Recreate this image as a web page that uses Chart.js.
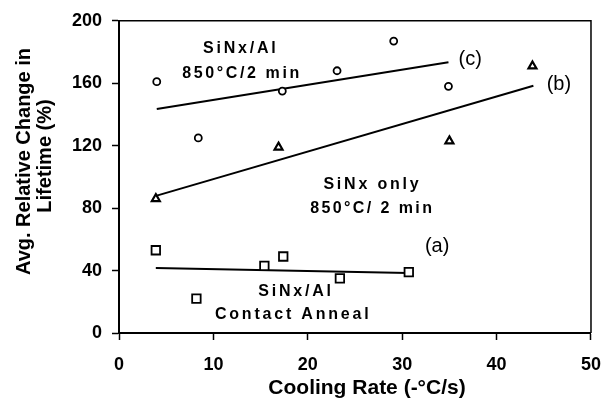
<!DOCTYPE html>
<html><head><meta charset="utf-8">
<script src="https://cdn.jsdelivr.net/npm/chart.js@4.4.0/dist/chart.umd.min.js"></script>
<style>html,body{margin:0;padding:0;background:#fff}#wrap{width:615px;height:400px}</style>
</head><body><div id="wrap"><canvas id="c" width="615" height="400"></canvas></div>
<script>
// Tick values
const xTicks = [0, 10, 20, 30, 40, 50];
const yTicks = [0, 40, 80, 120, 160, 200];

// (a) SiNx/Al contact anneal - squares
const aX = [3.9, 8.2, 15.4, 17.4, 23.4, 30.7];
const aY = [53, 22, 43, 49, 35, 39];
// (b) SiNx only 850C/2min - triangles
const bX = [3.9, 16.9, 35.0, 43.8];
const bY = [86, 119, 123, 171];
// (c) SiNx/Al 850C/2min - circles
const cX = [4.0, 8.4, 17.3, 23.1, 29.1, 34.9];
const cY = [161, 125, 155, 168, 187, 158];

// Fitted trend lines (end points)
const fitAX = [3.9, 30.6];
const fitAY = [41.6, 38.4];
const fitBX = [4.0, 43.9];
const fitBY = [88, 158.4];
const fitCX = [4.0, 34.9];
const fitCY = [143.5, 173.4];

const xTitle = 'Cooling Rate (-\u00B0C/s)';
const yTitle = ['Avg. Relative Change in', 'Lifetime (%)'];

function pts(xs, ys) { return xs.map((x, i) => ({x: x, y: ys[i]})); }

const FONT = '"Liberation Sans", Arial, sans-serif';

const annot = {
  id: 'annot',
  beforeDatasetsDraw(chart) {
    const {ctx, chartArea: a} = chart;
    ctx.save();
    ctx.strokeStyle = '#000';
    ctx.lineWidth = 1.5;
    ctx.beginPath();
    ctx.moveTo(a.left, a.top);
    ctx.lineTo(a.right, a.top);
    ctx.lineTo(a.right, a.bottom);
    ctx.stroke();
    ctx.restore();
  },
  afterDraw(chart) {
    const {ctx} = chart;
    const xs = chart.scales.x, ys = chart.scales.y;
    function txt(s, x, y, font, ls) {
      ctx.save();
      ctx.font = font;
      ctx.fillStyle = '#000';
      ctx.textBaseline = 'middle';
      ctx.textAlign = 'center';
      ctx.letterSpacing = (ls || 0) + 'px';
      ctx.fillText(s, xs.getPixelForValue(x) + (ls || 0) / 2, ys.getPixelForValue(y));
      ctx.restore();
    }
    const lb = 'bold 16px ' + FONT;
    txt('SiNx/Al', 12.75, 182.4, lb, 2.8);
    txt('850\u00B0C/2 min', 12.9, 166.4, lb, 2.6);
    txt('SiNx only', 26.7, 94.9, lb, 2.8);
    txt('850\u00B0C/ 2 min', 26.7, 79.6, lb, 2.4);
    txt('SiNx/Al', 18.6, 26.3, lb, 2.8);
    txt('Contact Anneal', 18.3, 11.5, lb, 2.8);
    const lr = '20px ' + FONT;
    txt('(c)', 37.2, 175, lr, 0);
    txt('(b)', 46.6, 159, lr, 0);
    txt('(a)', 33.7, 55.4, lr, 0);

    // axis titles
    ctx.save();
    ctx.fillStyle = '#000';
    ctx.font = 'bold 21px ' + FONT;
    ctx.textAlign = 'center';
    ctx.textBaseline = 'alphabetic';
    ctx.fillText(xTitle, 367, 394);
    ctx.font = 'bold 20px ' + FONT;
    ctx.save();
    ctx.translate(29.5, 161.5);
    ctx.rotate(-Math.PI / 2);
    ctx.fillText(yTitle[0], 0, 0);
    ctx.restore();
    ctx.save();
    ctx.translate(51, 156);
    ctx.rotate(-Math.PI / 2);
    ctx.fillText(yTitle[1], 0, 0);
    ctx.restore();
    ctx.restore();
  }
};

const tickFont = {family: FONT, size: 18, weight: 'bold'};

new Chart(document.getElementById('c'), {
  type: 'scatter',
  data: {
    datasets: [
      {data: pts(cX, cY), pointStyle: 'circle', pointRadius: 3.5, borderColor: '#000', backgroundColor: '#fff', pointBorderWidth: 1.8},
      {data: pts(bX, bY), pointStyle: 'triangle', pointRadius: 4.6, borderColor: '#000', backgroundColor: '#fff', pointBorderWidth: 2.2},
      {data: pts(aX, aY), pointStyle: 'rect', pointRadius: 6, borderColor: '#000', backgroundColor: '#fff', pointBorderWidth: 1.8},
      {type: 'line', data: pts(fitCX, fitCY), borderColor: '#000', borderWidth: 2, pointRadius: 0, fill: false},
      {type: 'line', data: pts(fitBX, fitBY), borderColor: '#000', borderWidth: 2, pointRadius: 0, fill: false},
      {type: 'line', data: pts(fitAX, fitAY), borderColor: '#000', borderWidth: 2, pointRadius: 0, fill: false}
    ]
  },
  options: {
    responsive: false,
    animation: false,
    devicePixelRatio: 1,
    layout: {padding: {top: 19, right: 15, left: 0, bottom: 0}},
    plugins: {legend: {display: false}, tooltip: {enabled: false}},
    scales: {
      x: {
        type: 'linear', min: xTicks[0], max: xTicks[xTicks.length - 1],
        afterBuildTicks: s => { s.ticks = xTicks.map(v => ({value: v})); },
        afterFit: s => { s.height = 67; },
        ticks: {font: tickFont, color: '#000', padding: 14, maxRotation: 0},
        grid: {drawOnChartArea: false, drawTicks: true, tickLength: 7, color: '#000', tickWidth: 1.5},
        border: {display: true, color: '#000', width: 2}
      },
      y: {
        type: 'linear', min: yTicks[0], max: yTicks[yTicks.length - 1],
        afterBuildTicks: s => { s.ticks = yTicks.map(v => ({value: v})); },
        afterFit: s => { s.width = 119; },
        ticks: {font: tickFont, color: '#000', padding: 10},
        grid: {drawOnChartArea: false, drawTicks: true, tickLength: 7, color: '#000', tickWidth: 1.5},
        border: {display: true, color: '#000', width: 2}
      }
    }
  },
  plugins: [annot]
});
</script>
</body></html>
